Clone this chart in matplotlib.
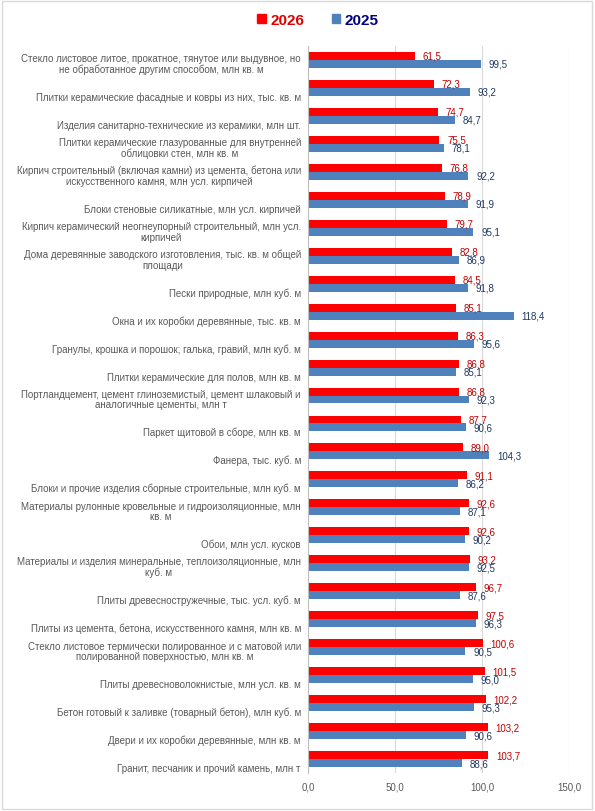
import matplotlib
matplotlib.use("Agg")
import matplotlib.pyplot as plt
import matplotlib.transforms as mtransforms
from matplotlib.patches import Rectangle, Patch
import numpy as np

plt.rcParams['font.family'] = ['Liberation Sans', 'DejaVu Sans']

# data, top to bottom
categories = [
    "Стекло листовое литое, прокатное, тянутое или выдувное, но\nне обработанное другим способом, млн кв. м",
    "Плитки керамические фасадные и ковры из них, тыс. кв. м",
    "Изделия санитарно-технические из керамики, млн шт.",
    "Плитки керамические глазурованные для внутренней\nоблицовки стен, млн кв. м",
    "Кирпич строительный (включая камни) из цемента, бетона или\nискусственного камня, млн усл. кирпичей",
    "Блоки стеновые силикатные, млн усл. кирпичей",
    "Кирпич керамический неогнеупорный строительный, млн усл.\nкирпичей",
    "Дома деревянные заводского изготовления, тыс. кв. м общей\nплощади",
    "Пески природные, млн куб. м",
    "Окна и их коробки деревянные, тыс. кв. м",
    "Гранулы, крошка и порошок; галька, гравий, млн куб. м",
    "Плитки керамические для полов, млн кв. м",
    "Портландцемент, цемент глиноземистый, цемент шлаковый и\nаналогичные цементы, млн т",
    "Паркет щитовой в сборе, млн кв. м",
    "Фанера, тыс. куб. м",
    "Блоки и прочие изделия сборные строительные, млн куб. м",
    "Материалы рулонные кровельные и гидроизоляционные, млн\nкв. м",
    "Обои, млн усл. кусков",
    "Материалы и изделия минеральные, теплоизоляционные, млн\nкуб. м",
    "Плиты древесностружечные, тыс. усл. куб. м",
    "Плиты из цемента, бетона, искусственного камня, млн кв. м",
    "Стекло листовое термически полированное и с матовой или\nполированной поверхностью, млн кв. м",
    "Плиты древесноволокнистые, млн усл. кв. м",
    "Бетон готовый к заливке (товарный бетон), млн куб. м",
    "Двери и их коробки деревянные, млн кв. м",
    "Гранит, песчаник и прочий камень, млн т",
]
values_2026 = [61.5, 72.3, 74.7, 75.5, 76.8, 78.9, 79.7, 82.8, 84.5, 85.1, 86.3, 86.8, 86.8,
               87.7, 89.0, 91.1, 92.6, 92.6, 93.2, 96.7, 97.5, 100.6, 101.5, 102.2, 103.2, 103.7]
values_2025 = [99.5, 93.2, 84.7, 78.1, 92.2, 91.9, 95.1, 86.9, 91.8, 118.4, 95.6, 85.1, 92.3,
               90.6, 104.3, 86.2, 87.1, 90.2, 92.5, 87.6, 96.3, 90.5, 95.0, 95.3, 90.6, 88.6]
xticks = [0, 50, 100, 150]

red = '#FF0000'
blue = '#4F81BD'
grey_txt = '#595959'

fig = plt.figure(figsize=(5.95, 8.12), dpi=100)
ax = fig.add_axes([308/595, 1 - 774/812, 261/595, 727/812])

y = np.arange(len(categories))
h = 0.285
ax.barh(y - h/2, values_2026, height=h, color=red, label='2026')
ax.barh(y + h/2, values_2025, height=h, color=blue, label='2025')

# data labels
def fmt(v):
    return f"{v:.1f}".replace('.', ',')

for i in range(len(categories)):
    ax.annotate(fmt(values_2026[i]), (values_2026[i], y[i] - h/2), xytext=(5.5, 0),
                textcoords='offset points', va='center', ha='left', fontsize=7, color='#C00000')
    ax.annotate(fmt(values_2025[i]), (values_2025[i], y[i] + h/2), xytext=(5.5, 0),
                textcoords='offset points', va='center', ha='left', fontsize=7, color='#1F3864')

# category labels, bottom aligned within each row like Excel does
trans = mtransforms.blended_transform_factory(ax.transAxes, ax.transData)
for i, lab in enumerate(categories):
    ax.text(-0.027, y[i] + 0.5, lab, transform=trans, ha='right', va='bottom',
            multialignment='center', fontsize=7, color=grey_txt, linespacing=1.05)

ax.set_ylim(len(categories) - 0.5, -0.5)
ax.set_yticks([])
ax.set_xlim(0, 150)
ax.set_xticks(xticks)
ax.set_xticklabels([fmt(t) for t in xticks], fontsize=7, color=grey_txt)
ax.tick_params(axis='x', length=0, pad=6)
ax.grid(axis='x', color='#D9D9D9', linewidth=0.8)
ax.set_axisbelow(True)
for s in ['top', 'right', 'bottom']:
    ax.spines[s].set_visible(False)
ax.spines['left'].set_color('#BFBFBF')
ax.spines['left'].set_linewidth(0.8)

handles = [Patch(color=red), Patch(color=blue)]
leg = fig.legend(handles, ['2026', '2025'], loc='center', bbox_to_anchor=(318/595, 1 - 21/812),
                 ncol=2, frameon=False, handlelength=0.55, handleheight=0.55,
                 handletextpad=0.3, columnspacing=1.8,
                 prop={'weight': 'bold', 'size': 11})
leg.get_texts()[0].set_color('#E00000')
leg.get_texts()[1].set_color('#000080')

# light frame around the whole chart
fig.patches.append(Rectangle((2/595, 2/812), 590/595, 808/812, transform=fig.transFigure,
                             fill=False, edgecolor='#D9D9D9', linewidth=1))

fig.savefig('out.png', dpi=100)
